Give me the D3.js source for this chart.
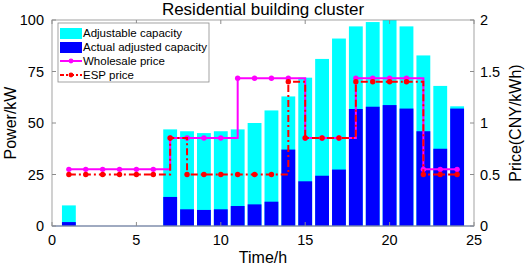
<!DOCTYPE html>
<html>
<head>
<meta charset="utf-8">
<script src="https://cdn.jsdelivr.net/npm/d3@7"></script>
<style>
  body { margin: 0; background: #fff; }
  svg text { font-family: "Liberation Sans", Arial, sans-serif; }
</style>
</head>
<body>
<svg id="chart"></svg>
<script>
// Residential building cluster: capacity bars (left) + price stairs (right)

const hours = d3.range(1, 25);
const adjustable = [10, 0, 0, 0, 0, 0, 46.9, 46, 45.1, 46, 46.9, 50,
                    56.1, 62.9, 72, 81.1, 91, 96.9, 99, 100, 96.9, 82.8, 68, 58.1];
const actual     = [1.9, 0, 0, 0, 0, 0, 14.1, 8.1, 7.8, 8.1, 9.7, 10.5,
                    11.8, 37.1, 21.7, 24.4, 27.4, 56.8, 57.9, 58.7, 57, 46, 37.5, 57];
const wholesale  = [0.55, 0.55, 0.55, 0.55, 0.55, 0.55, 0.855, 0.855, 0.855, 0.855, 1.435, 1.435,
                    1.435, 1.435, 0.855, 0.855, 0.855, 1.435, 1.435, 1.435, 1.435, 0.55, 0.55, 0.55];
const esp        = [0.5, 0.5, 0.5, 0.5, 0.5, 0.5, 0.855, 0.5, 0.5, 0.5, 0.5, 0.5,
                    0.5, 1.4, 0.855, 0.855, 0.855, 1.4, 1.4, 1.4, 1.4, 0.5, 0.5, 0.5];
const xTicks = [0, 5, 10, 15, 20, 25];
const yTicks = [0, 25, 50, 75, 100];
const pTicks = [0, 0.5, 1, 1.5, 2];

const W = 526, H = 269;
const m = { left: 52, right: 52, top: 20, bottom: 43 };
const svg = d3.select('#chart').attr('width', W).attr('height', H);

const x  = d3.scaleLinear().domain([0, 25]).range([m.left, W - m.right]);
const y  = d3.scaleLinear().domain([0, 100]).range([H - m.bottom, m.top]);
const yp = d3.scaleLinear().domain([0, 2]).range([H - m.bottom, m.top]);

const AXIS = '#8c8c8c';
const bw = (x(1) - x(0)) * 0.82;

// ── Bars ────────────────────────────────────────────────────────────────
svg.append('g').selectAll('rect')
    .data(hours.map((h, i) => ({ h, v: adjustable[i] })).filter(d => d.v > 0))
    .join('rect')
    .attr('x', d => x(d.h) - bw / 2).attr('width', bw)
    .attr('y', d => y(d.v)).attr('height', d => y(0) - y(d.v))
    .attr('fill', '#00ffff');

svg.append('g').selectAll('rect')
    .data(hours.map((h, i) => ({ h, v: actual[i] })).filter(d => d.v > 0))
    .join('rect')
    .attr('x', d => x(d.h) - bw / 2).attr('width', bw)
    .attr('y', d => y(d.v)).attr('height', d => y(0) - y(d.v))
    .attr('fill', '#0000ff');

// baseline
svg.append('line')
    .attr('x1', x(0)).attr('x2', x(25)).attr('y1', y(0)).attr('y2', y(0))
    .attr('stroke', '#5a7fc8').attr('stroke-width', 1);

// ── Price stairs ────────────────────────────────────────────────────────
const stairs = d3.line().curve(d3.curveStepAfter)
    .x(d => x(d.h)).y(d => yp(d.v));

function drawStairs(vals, color, dash) {
    const pts = hours.map((h, i) => ({ h, v: vals[i] }));
    svg.append('path').datum(pts)
        .attr('d', stairs).attr('fill', 'none')
        .attr('stroke', color).attr('stroke-width', 2)
        .attr('stroke-dasharray', dash);
    svg.append('g').selectAll('circle').data(pts).join('circle')
        .attr('cx', d => x(d.h)).attr('cy', d => yp(d.v)).attr('r', 2.7)
        .attr('fill', color);
}
drawStairs(wholesale, '#ff00ff', null);
drawStairs(esp, '#ff0000', '7,3,2,3');

// ── Axes ────────────────────────────────────────────────────────────────
const frame = svg.append('g').attr('stroke', AXIS).attr('fill', 'none');
frame.append('rect')
    .attr('x', x(0)).attr('y', y(100))
    .attr('width', x(25) - x(0)).attr('height', y(0) - y(100))
    .attr('stroke-width', 0.8);

const tk = 4;
xTicks.forEach(t => {
    frame.append('line').attr('x1', x(t)).attr('x2', x(t)).attr('y1', y(0)).attr('y2', y(0) - tk);
    frame.append('line').attr('x1', x(t)).attr('x2', x(t)).attr('y1', y(100)).attr('y2', y(100) + tk);
});
yTicks.forEach(t => {
    frame.append('line').attr('x1', x(0)).attr('x2', x(0) + tk).attr('y1', y(t)).attr('y2', y(t));
});
pTicks.forEach(t => {
    frame.append('line').attr('x1', x(25)).attr('x2', x(25) - tk).attr('y1', yp(t)).attr('y2', yp(t));
});

const fs = 14.5;
svg.append('g').selectAll('text').data(xTicks).join('text')
    .attr('x', d => x(d)).attr('y', y(0) + 19)
    .attr('text-anchor', 'middle').attr('font-size', fs).text(d => d);
svg.append('g').selectAll('text').data(yTicks).join('text')
    .attr('x', x(0) - 8).attr('y', d => y(d) + 5)
    .attr('text-anchor', 'end').attr('font-size', fs).text(d => d);
svg.append('g').selectAll('text').data(pTicks).join('text')
    .attr('x', x(25) + 6).attr('y', d => yp(d) + 5)
    .attr('text-anchor', 'start').attr('font-size', fs).text(d => d);

// labels
svg.append('text').attr('x', (x(0) + x(25)) / 2).attr('y', 15)
    .attr('text-anchor', 'middle').attr('font-size', 17).text('Residential building cluster');
svg.append('text').attr('x', (x(0) + x(25)) / 2).attr('y', 263)
    .attr('text-anchor', 'middle').attr('font-size', 16).text('Time/h');
svg.append('text').attr('transform', `translate(16,${(y(0) + y(100)) / 2}) rotate(-90)`)
    .attr('text-anchor', 'middle').attr('font-size', 16).text('Power/kW');
svg.append('text').attr('transform', `translate(${W - 5},${(y(0) + y(100)) / 2}) rotate(-90)`)
    .attr('text-anchor', 'middle').attr('font-size', 16).text('Price(CNY/kWh)');

// ── Legend ──────────────────────────────────────────────────────────────
const leg = svg.append('g').attr('transform', 'translate(58,23)');
leg.append('rect').attr('width', 151).attr('height', 59)
    .attr('fill', '#fff').attr('stroke', AXIS).attr('stroke-width', 0.8);
const items = [
    { label: 'Adjustable capacity', type: 'box', color: '#00ffff' },
    { label: 'Actual adjusted capacity', type: 'box', color: '#0000ff' },
    { label: 'Wholesale price', type: 'line', color: '#ff00ff', dash: null },
    { label: 'ESP price', type: 'line', color: '#ff0000', dash: '4,2,2,2' },
];
items.forEach((it, i) => {
    const cy = 10 + i * 14;
    if (it.type === 'box') {
        leg.append('rect').attr('x', 2).attr('y', cy - 5).attr('width', 22).attr('height', 11)
            .attr('fill', it.color);
    } else {
        leg.append('line').attr('x1', 2).attr('x2', 24).attr('y1', cy).attr('y2', cy)
            .attr('stroke', it.color).attr('stroke-width', 2).attr('stroke-dasharray', it.dash);
        leg.append('circle').attr('cx', 13).attr('cy', cy).attr('r', 2.4).attr('fill', it.color);
    }
    leg.append('text').attr('x', 25).attr('y', cy + 4).attr('font-size', 11.5).text(it.label);
});
</script>
</body>
</html>
